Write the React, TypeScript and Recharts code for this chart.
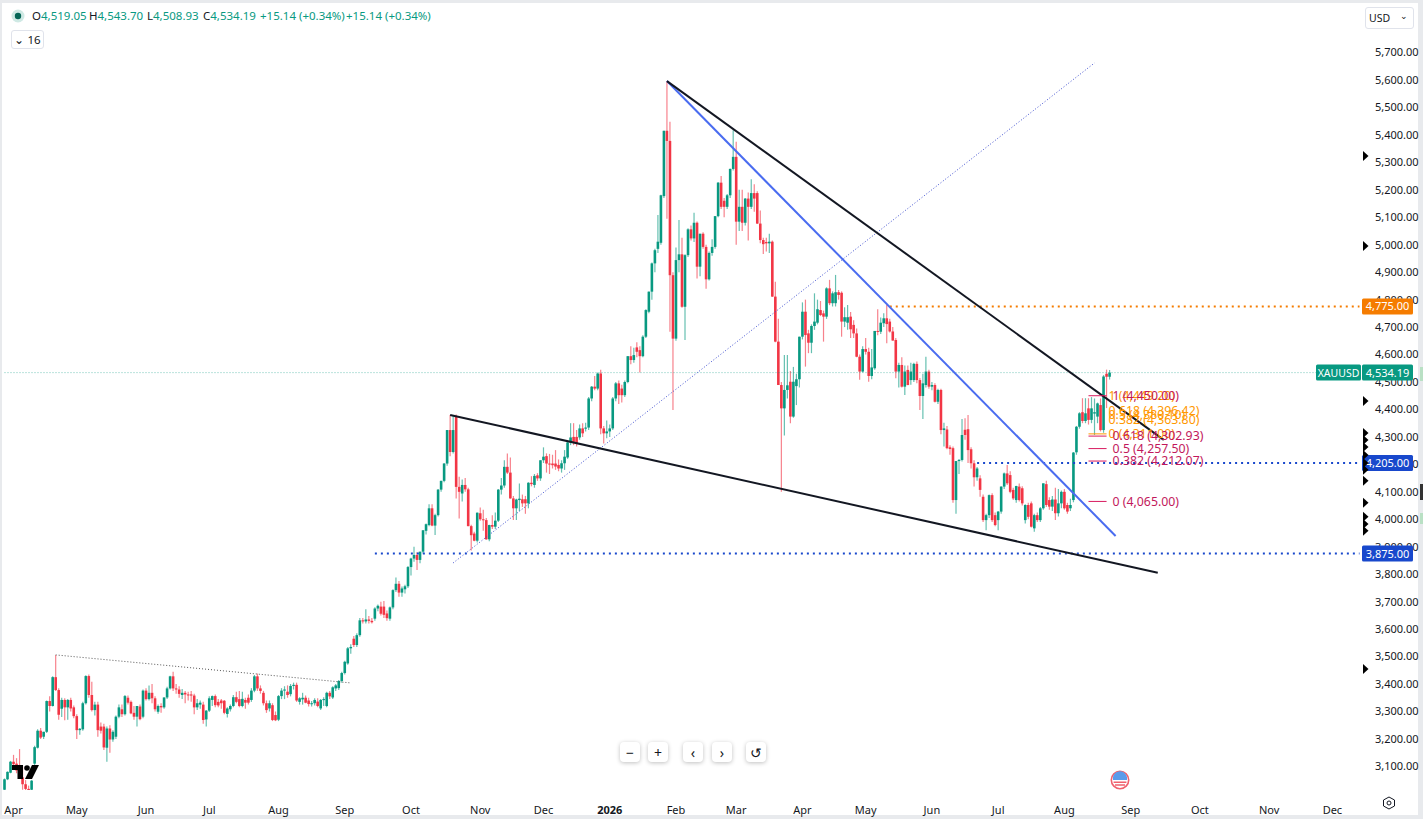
import React from "react";
import { Bar, ComposedChart, ReferenceDot, ReferenceLine, XAxis, YAxis } from "recharts";

type Ohlc = [number, number, number, number];

// open, high, low, close, one list per calendar month
const mar25: Ohlc[] = [[3015,3056,3012,3053],[3053,3082,3050,3080],[3077,3120,3075,3117]];
const apr25: Ohlc[] = [[3117,3142,3105,3108],[3110,3130,3075,3085],[3085,3163,3065,3075],[3060,3100,3015,3035],[3035,3050,3005,3018],[3018,3030,3000,3010],[3015,3050,3005,3048],[3110,3175,3100,3170],[3168,3235,3165,3230],[3230,3240,3200,3205],[3208,3226,3200,3226],[3226,3340,3222,3338],[3338,3355,3300,3320],[3320,3428,3318,3425],[3425,3506,3375,3378],[3378,3385,3270,3288],[3310,3350,3280,3342],[3342,3348,3268,3315],[3315,3345,3270,3342],[3342,3350,3300,3311],[3315,3322,3275,3283]];
const may25: Ohlc[] = [[3283,3290,3200,3232],[3232,3240,3215,3237],[3235,3335,3230,3330],[3330,3432,3325,3429],[3429,3435,3350,3360],[3360,3408,3300,3305],[3305,3335,3285,3325],[3325,3335,3208,3232],[3245,3260,3220,3230],[3245,3255,3160,3169],[3168,3245,3117,3238],[3238,3250,3150,3198],[3198,3232,3190,3226],[3208,3285,3200,3281],[3281,3325,3275,3315],[3308,3325,3280,3290],[3290,3360,3285,3356],[3350,3358,3325,3332],[3335,3340,3290,3293],[3295,3320,3270,3281],[3281,3320,3245,3320],[3318,3325,3268,3272],[3281,3380,3275,3376]];
const jun25: Ohlc[] = [[3376,3385,3340,3345],[3345,3395,3340,3368],[3368,3400,3330,3348],[3348,3355,3300,3308],[3299,3325,3292,3320],[3320,3330,3295,3315],[3315,3352,3310,3351],[3351,3390,3345,3384],[3384,3430,3380,3428],[3428,3445,3375,3384],[3384,3400,3365,3380],[3380,3392,3350,3364],[3360,3382,3345,3368],[3368,3375,3330,3362],[3362,3372,3340,3360],[3362,3375,3335,3358],[3358,3365,3290,3315],[3315,3345,3305,3330],[3325,3340,3310,3332],[3325,3335,3255,3269],[3271,3305,3245,3303]];
const jul25: Ohlc[] = [[3303,3355,3298,3348],[3342,3358,3320,3356],[3356,3362,3315,3323],[3335,3345,3315,3322],[3340,3345,3310,3330],[3339,3342,3290,3295],[3291,3315,3278,3311],[3308,3325,3300,3320],[3320,3360,3315,3352],[3352,3372,3330,3335],[3345,3375,3315,3320],[3320,3372,3315,3346],[3342,3350,3310,3332],[3350,3362,3325,3332],[3342,3385,3335,3376],[3376,3433,3370,3428],[3428,3438,3375,3384],[3384,3395,3365,3375],[3368,3375,3322,3330],[3330,3340,3295,3305],[3311,3340,3300,3330],[3323,3330,3265,3269],[3287,3300,3265,3268]];
const aug25: Ohlc[] = [[3270,3360,3265,3356],[3356,3385,3345,3376],[3376,3392,3345,3380],[3372,3395,3350,3360],[3363,3400,3355,3393],[3393,3405,3380,3397],[3397,3405,3335,3340],[3335,3352,3325,3348],[3344,3368,3325,3350],[3350,3358,3330,3332],[3340,3350,3318,3327],[3327,3338,3318,3330],[3330,3348,3322,3342],[3336,3348,3315,3320],[3311,3345,3305,3342],[3342,3352,3320,3345],[3320,3372,3315,3368],[3368,3375,3345,3355],[3351,3392,3345,3388],[3384,3400,3375,3395],[3385,3415,3378,3411],[3411,3445,3405,3440]];
const sep25: Ohlc[] = [[3440,3485,3435,3481],[3475,3535,3470,3530],[3530,3545,3510,3535],[3565,3575,3535,3542],[3542,3585,3535,3578],[3578,3640,3572,3632],[3632,3640,3620,3628],[3628,3672,3620,3635],[3635,3648,3620,3630],[3630,3640,3620,3625],[3638,3680,3630,3675],[3675,3690,3665,3685],[3682,3700,3650,3656],[3682,3702,3640,3652],[3657,3668,3630,3640],[3638,3682,3630,3679],[3679,3745,3672,3742],[3742,3788,3735,3765],[3765,3775,3718,3733],[3733,3755,3718,3748],[3745,3762,3730,3756],[3756,3830,3750,3826]];
const oct25: Ohlc[] = [[3826,3860,3795,3857],[3857,3900,3845,3870],[3870,3880,3815,3852],[3852,3882,3840,3882],[3882,3960,3875,3960],[3958,3985,3945,3982],[3979,4055,3975,4040],[4040,4055,3975,3977],[3977,4020,3943,4015],[4015,4110,4010,4108],[4108,4140,4100,4140],[4140,4205,4135,4203],[4203,4325,4195,4325],[4325,4380,4230,4245],[4245,4380,4240,4325],[4373,4382,4076,4118],[4118,4155,4003,4100],[4094,4145,4065,4125],[4125,4150,4100,4109],[4109,4115,3975,3975],[3975,3980,3886,3942],[3948,3955,3920,3922],[3922,4025,3915,4024]];
const nov25: Ohlc[] = [[4022,4043,3995,4000],[4000,4035,3958,3998],[3997,4005,3925,3927],[3927,3980,3920,3979],[3979,4015,3965,3973],[3973,4025,3965,3995],[3995,4110,3990,4108],[4108,4150,4090,4123],[4123,4215,4115,4191],[4191,4240,4165,4170],[4170,4225,4075,4076],[4076,4085,3997,4040],[4040,4075,3997,4072],[4070,4130,4030,4075],[4073,4090,4045,4058],[4073,4085,4020,4058],[4058,4135,4040,4133],[4133,4157,4120,4128],[4125,4165,4115,4158],[4160,4168,4140,4149],[4149,4215,4140,4215]];
const dec25: Ohlc[] = [[4215,4262,4205,4228],[4230,4240,4170,4203],[4203,4238,4165,4201],[4203,4235,4185,4197],[4203,4252,4180,4192],[4198,4218,4175,4185],[4185,4215,4170,4204],[4204,4252,4180,4228],[4225,4285,4220,4280],[4280,4350,4270,4298],[4300,4350,4270,4282],[4300,4325,4265,4275],[4298,4345,4290,4331],[4331,4350,4300,4313],[4330,4352,4320,4334],[4334,4445,4325,4440],[4440,4485,4430,4483],[4483,4522,4470,4476],[4476,4535,4470,4531],[4531,4545,4310,4331],[4331,4340,4276,4313],[4313,4360,4295,4320]];
const jan26: Ohlc[] = [[4320,4345,4300,4331],[4331,4445,4325,4440],[4440,4500,4430,4495],[4495,4505,4420,4452],[4476,4490,4425,4452],[4452,4505,4445,4500],[4500,4595,4495,4594],[4594,4630,4565,4580],[4580,4625,4570,4598],[4626,4645,4590,4610],[4616,4630,4535,4594],[4594,4670,4590,4665],[4665,4765,4660,4762],[4756,4830,4750,4829],[4829,4935,4800,4932],[4932,4985,4900,4980],[4985,5108,4970,5011],[5007,5182,5000,5180],[5177,5415,5170,5415],[5415,5596,5095,5378],[5378,5448,4683,4889],[4889,4900,4398,4658]];
const feb26: Ohlc[] = [[4658,4990,4650,4944],[4944,5090,4900,4965],[4965,5025,4770,4774],[4774,4965,4653,4962],[4962,5060,4955,5056],[5056,5070,5015,5023],[5023,5116,5010,5080],[5080,5085,4877,4920],[4920,5040,4885,5040],[5040,5045,4985,4992],[4992,5000,4840,4874],[4874,4975,4870,4970],[4970,5020,4960,4992],[4992,5105,4985,5104],[5104,5228,5100,5226],[5226,5250,5130,5138],[5160,5170,5100,5138],[5138,5185,5130,5180],[5180,5278,5170,5276],[5276,5417,5270,5320]];
const mar26: Ohlc[] = [[5320,5375,5000,5084],[5084,5200,5050,5138],[5138,5200,5050,5080],[5080,5170,5070,5168],[5168,5190,5015,5138],[5138,5238,5130,5188],[5188,5220,5120,5168],[5188,5195,5075,5077],[5077,5125,5005,5017],[5017,5025,4966,5002],[5010,5025,4975,5005],[5005,5040,4970,5011],[5011,5015,4810,4811],[4811,4865,4645,4647],[4647,4730,4490,4489],[4489,4500,4100,4404],[4404,4598,4305,4471],[4471,4598,4440,4488],[4501,4540,4350,4374],[4374,4555,4370,4501],[4485,4530,4416,4510],[4510,4665,4480,4665]];
const apr26: Ohlc[] = [[4665,4790,4655,4756],[4756,4800,4556,4671],[4677,4690,4605,4643],[4643,4710,4605,4704],[4704,4823,4690,4720],[4716,4800,4710,4765],[4762,4795,4740,4744],[4750,4760,4647,4738],[4738,4845,4730,4841],[4841,4872,4780,4787],[4787,4830,4775,4823],[4787,4890,4775,4827],[4827,4835,4800,4817],[4825,4830,4665,4720],[4720,4772,4700,4736],[4716,4780,4690,4736],[4738,4755,4660,4692],[4708,4725,4660,4677],[4677,4695,4590,4592],[4592,4600,4508,4538],[4538,4630,4535,4620]];
const may26: Ohlc[] = [[4620,4660,4600,4610],[4610,4625,4501,4522],[4522,4620,4510,4553],[4550,4686,4545,4686],[4686,4765,4670,4683],[4683,4735,4675,4716],[4714,4750,4700,4732],[4732,4780,4641,4711],[4720,4730,4680,4684],[4684,4700,4650,4651],[4653,4660,4514,4538],[4538,4570,4480,4562],[4562,4590,4480,4483],[4483,4560,4453,4538],[4544,4560,4488,4489],[4507,4570,4490,4538],[4507,4570,4500,4566],[4566,4575,4495,4507],[4507,4515,4398,4449],[4449,4530,4365,4495],[4489,4592,4480,4538],[4538,4545,4475,4483]];
const jun26: Ohlc[] = [[4483,4500,4470,4489],[4489,4495,4425,4428],[4428,4475,4420,4471],[4471,4475,4310,4325],[4325,4352,4265,4331],[4327,4340,4255,4259],[4262,4270,4235,4256],[4259,4265,4060,4070],[4070,4212,4020,4212],[4212,4220,4165,4216],[4216,4365,4210,4307],[4326,4368,4290,4307],[4328,4380,4205,4252],[4255,4262,4185,4204],[4204,4215,4119,4153],[4153,4190,4140,4185],[4149,4160,4082,4107],[4082,4090,3990,3997],[3997,4020,3960,4015],[4015,4090,4005,4088],[4088,4095,3990,3997],[4015,4025,3975,3979]];
const jul26: Ohlc[] = [[3997,4030,3960,4028],[4028,4120,4020,4119],[4119,4170,4110,4167],[4167,4198,4125,4131],[4161,4175,4095,4100],[4107,4115,4070,4076],[4070,4122,4060,4121],[4119,4130,4065,4070],[4113,4120,4050,4058],[3997,4055,3985,4052],[4052,4060,4000,4009],[4058,4065,3970,3973],[3967,4020,3955,4015],[4015,4025,3990,3997],[3997,4045,3990,4040],[4040,4130,4035,4131],[4128,4140,4045,4052],[4070,4080,4035,4046],[4046,4085,4030,4072],[4072,4115,3997,4022],[4022,4110,4010,4058],[4058,4105,4040,4100]];
const aug26: Ohlc[] = [[4100,4110,4035,4040],[4052,4060,4020,4028],[4040,4075,4030,4052],[4070,4245,4062,4243],[4244,4340,4235,4337],[4337,4390,4330,4386],[4390,4441,4350,4358],[4358,4441,4350,4386],[4404,4441,4345,4362],[4362,4445,4350,4404],[4385,4440,4307,4390],[4374,4425,4350,4422],[4416,4440,4320,4325],[4325,4525,4315,4520],[4530,4545,4405,4519],[4519.05,4543.7,4508.93,4534.19]];

const months: [string, Ohlc[]][] = [
    ["", mar25], ["Apr", apr25], ["May", may25], ["Jun", jun25], ["Jul", jul25], ["Aug", aug25], ["Sep", sep25], ["Oct", oct25],
    ["Nov", nov25], ["Dec", dec25], ["2026", jan26], ["Feb", feb26], ["Mar", mar26], ["Apr", apr26], ["May", may26], ["Jun", jun26],
    ["Jul", jul26], ["Aug", aug26],
];
const futureMonthLabels = ["Sep", "Oct", "Nov", "Dec"];
const futureMonthSlots = [374, 397, 420, 441];
const slotCount = 451;

const priceTicks = [3100, 3200, 3300, 3400, 3500, 3600, 3700, 3800, 3900, 4000, 4100, 4200, 4300, 4400, 4500, 4600, 4700, 4800, 4900, 5000, 5100, 5200, 5300, 5400, 5500, 5600, 5700];
const axisMarkers = [5323, 4995, 4431, 4314, 4289, 4263, 4234, 4205, 4180, 4140, 4060, 4009, 3983, 3958, 3455];
const priceDomain = [3014, 5884];

const redFib = [
    { text: "1 (4,450.00)", price: 4450 },
    { text: "0.618 (4,302.93)", price: 4302.93 },
    { text: "0.5 (4,257.50)", price: 4257.5 },
    { text: "0.382 (4,212.07)", price: 4212.07 },
    { text: "0 (4,065.00)", price: 4065 },
];
const orangeFib = [
    { text: "1 (4,449.20)", price: 4449.2 },
    { text: "0.618 (4,396.42)", price: 4396.42 },
    { text: "0.5 (4,380.10)", price: 4380.1 },
    { text: "0.382 (4,363.80)", price: 4363.8 },
    { text: "0 (4,311.00)", price: 4311 },
];

const UP = "#089981";
const DOWN = "#f23645";
const FONT = "'Noto Sans', sans-serif";

const ohlc = months.flatMap(([, rows]) => rows);
const rows = Array.from({ length: slotCount }, (_, idx) => {
    const c = ohlc[idx];
    return c ? { idx, open: c[0], high: c[1], low: c[2], close: c[3] } : { idx };
});

const tickLabels: Record<number, string> = {};
let cursor = 0;
months.forEach(([label, list]) => {
    if (label) tickLabels[cursor] = label;
    cursor += list.length;
});
futureMonthSlots.forEach((slot, i) => {
    tickLabels[slot] = futureMonthLabels[i];
});
const tickSlots = Object.keys(tickLabels).map(Number);

function Candle(props: any) {
    const { x, y, width, height, payload } = props;
    if (payload.high === undefined || !Number.isFinite(y)) return null;
    const top = Math.min(y, y + height);
    const h = Math.abs(height);
    const range = payload.high - payload.low || 1;
    const at = (price: number) => top + ((payload.high - price) / range) * h;
    const color = payload.close >= payload.open ? UP : DOWN;
    const cx = x + width / 2;
    const bodyTop = at(Math.max(payload.open, payload.close));
    const bodyBottom = at(Math.min(payload.open, payload.close));
    return (
        <g>
            <line x1={cx} x2={cx} y1={top} y2={top + h} stroke={color} strokeWidth={1.2} strokeOpacity={0.62} />
            <rect x={cx - 1.3} y={bodyTop} width={2.6} height={Math.max(bodyBottom - bodyTop, 1)} fill={color} />
        </g>
    );
}

function MonthTick({ x, y, payload }: any) {
    const label = tickLabels[payload.value];
    return (
        <text x={x} y={y + 16} textAnchor="middle" fontFamily={FONT} fontSize={11} fontWeight={label === "2026" ? 700 : 400} fill="#131722">
            {label}
        </text>
    );
}

function PriceTag({ viewBox, text, color }: any) {
    const y = viewBox.y;
    return (
        <g>
            <rect x={1362} y={y - 8} width={51} height={16} rx={1.5} fill={color} />
            <text x={1387.5} y={y + 4} textAnchor="middle" fontFamily={FONT} fontSize={11} fill="#fff">{text}</text>
        </g>
    );
}

function LastPriceTag({ viewBox }: any) {
    const y = viewBox.y;
    return (
        <g>
            <rect x={1316} y={y - 8} width={45} height={16} rx={1.5} fill={UP} />
            <text x={1338.5} y={y + 4} textAnchor="middle" fontFamily={FONT} fontSize={10.5} fill="#fff">XAUUSD</text>
            <rect x={1362} y={y - 8} width={51} height={16} rx={1.5} fill={UP} />
            <text x={1387.5} y={y + 4} textAnchor="middle" fontFamily={FONT} fontSize={11} fill="#fff">4,534.19</text>
        </g>
    );
}

function MarkerTriangle({ cx, cy }: any) {
    return <path d={`M${cx + 2} ${cy - 5}L${cx + 7.5} ${cy}L${cx + 2} ${cy + 5}Z`} fill="#000" />;
}

const button: React.CSSProperties = {
    position: "absolute",
    top: 742,
    width: 20,
    height: 20,
    background: "#fff",
    borderRadius: 4,
    boxShadow: "0 1px 4px rgba(0,0,0,0.25)",
    display: "flex",
    alignItems: "center",
    justifyContent: "center",
    fontFamily: FONT,
    fontSize: 14,
    color: "#131722",
};

const legendItem: React.CSSProperties = {
    position: "absolute",
    top: 8,
    fontSize: 11.5,
    lineHeight: "16px",
    color: UP,
    whiteSpace: "nowrap",
};
const legendLetter: React.CSSProperties = { color: "#131722" };

export default function App() {
    return (
        <div style={{ position: "absolute", left: 0, top: 0, width: 1423, height: 819, background: "#e8eaed", overflow: "hidden", fontFamily: FONT }}>
            <div style={{ position: "absolute", left: 2, top: 3, width: 1416, height: 812, background: "#fff" }} />
            <div style={{ position: "absolute", left: 0, top: 0 }}>
                <ComposedChart width={1423} height={819} data={rows} margin={{ top: 2, right: 0, bottom: 0, left: 3 }}>
                    <XAxis dataKey="idx" type="category" ticks={tickSlots} interval={0} height={29} axisLine={false} tickLine={false} tick={<MonthTick />} />
                    <YAxis
                        orientation="right"
                        width={62}
                        domain={priceDomain}
                        allowDataOverflow
                        ticks={priceTicks}
                        interval={0}
                        axisLine={false}
                        tickLine={false}
                        tickMargin={8}
                        tick={{ fontSize: 11, fill: "#131722", fontFamily: FONT }}
                        tickFormatter={(v: number) => v.toLocaleString("en-US", { minimumFractionDigits: 2 })}
                    />
                    <Bar dataKey={(d: any) => (d.high === undefined ? undefined : [d.low, d.high])} barSize={3} shape={<Candle />} isAnimationActive={false} />

                    <ReferenceLine segment={[{ x: 0, y: 4534.19 }, { x: 436, y: 4534.19 }]} stroke={UP} strokeOpacity={0.55} strokeDasharray="1 2" />
                    <ReferenceLine segment={[{ x: 17, y: 3506 }, { x: 115, y: 3404 }]} stroke="#555" strokeDasharray="1 2" />
                    <ReferenceLine segment={[{ x: 149, y: 3841 }, { x: 362, y: 5662 }]} stroke="#3f4fd0" strokeDasharray="1 2" />
                    <ReferenceLine segment={[{ x: 123, y: 3875 }, { x: 450, y: 3875 }]} stroke="#1848cc" strokeWidth={2} strokeDasharray="2 4" />
                    <ReferenceLine segment={[{ x: 323, y: 4205 }, { x: 450, y: 4205 }]} stroke="#1848cc" strokeWidth={2} strokeDasharray="2 4" />
                    <ReferenceLine segment={[{ x: 294, y: 4775 }, { x: 450, y: 4775 }]} stroke="#f57c00" strokeWidth={2} strokeDasharray="2 4" />
                    <ReferenceLine segment={[{ x: 220, y: 5596 }, { x: 369, y: 3939 }]} stroke="#4a6cf0" strokeWidth={2} />
                    <ReferenceLine segment={[{ x: 220, y: 5596 }, { x: 385, y: 4289 }]} stroke="#131722" strokeWidth={2} />
                    <ReferenceLine segment={[{ x: 148, y: 4380 }, { x: 383, y: 3805 }]} stroke="#131722" strokeWidth={2} />

                    {orangeFib.map((f) => (
                        <ReferenceLine
                            key={f.text}
                            segment={[{ x: 360, y: f.price }, { x: 366, y: f.price }]}
                            stroke={f.price === 4311 ? "#ff9800" : "none"}
                            label={{ value: f.text, position: "right", offset: 2, fontSize: 12.3, fill: "#ff9800", fontFamily: FONT }}
                        />
                    ))}
                    {redFib.map((f) => (
                        <ReferenceLine
                            key={f.text}
                            segment={[{ x: 360, y: f.price }, { x: 366, y: f.price }]}
                            stroke="#d81b60"
                            label={{ value: f.text, position: "right", offset: 6, fontSize: 12.3, fill: "#c2185b", fontFamily: FONT }}
                        />
                    ))}
                </ComposedChart>
            </div>

            {/* Price tags and axis markers sit above the tick labels, so they get their own layer */}
            <div style={{ position: "absolute", left: 0, top: 0 }}>
                <ComposedChart width={1423} height={819} data={rows} margin={{ top: 2, right: 62, bottom: 29, left: 3 }}>
                    <XAxis dataKey="idx" type="category" hide />
                    <YAxis domain={priceDomain} allowDataOverflow hide />
                    <ReferenceLine y={4775} stroke="none" label={<PriceTag text="4,775.00" color="#f57c00" />} />
                    <ReferenceLine y={4205} stroke="none" label={<PriceTag text="4,205.00" color="#1848cc" />} />
                    <ReferenceLine y={3875} stroke="none" label={<PriceTag text="3,875.00" color="#1848cc" />} />
                    <ReferenceLine y={4534.19} stroke="none" label={<LastPriceTag />} />
                    {axisMarkers.map((price) => (
                        <ReferenceDot key={price} x={450} y={price} r={0} shape={<MarkerTriangle />} ifOverflow="visible" />
                    ))}
                </ComposedChart>
            </div>

            {/* Legend row */}
            <svg width={16} height={16} style={{ position: "absolute", left: 10, top: 8 }}>
                <circle cx={8} cy={8} r={6.5} fill="#cfe9e4" />
                <circle cx={8} cy={8} r={3.2} fill="#056656" />
            </svg>
            <div style={{ ...legendItem, left: 32 }}><span style={legendLetter}>O</span>4,519.05</div>
            <div style={{ ...legendItem, left: 89 }}><span style={legendLetter}>H</span>4,543.70</div>
            <div style={{ ...legendItem, left: 147 }}><span style={legendLetter}>L</span>4,508.93</div>
            <div style={{ ...legendItem, left: 203 }}><span style={legendLetter}>C</span>4,534.19</div>
            <div style={{ ...legendItem, left: 260 }}>+15.14 (+0.34%)</div>
            <div style={{ ...legendItem, left: 346 }}>+15.14 (+0.34%)</div>
            <div style={{ position: "absolute", left: 11, top: 30, width: 31, height: 17, border: "1px solid #e0e3eb", borderRadius: 3, fontSize: 11.5, lineHeight: "17px", color: "#131722", textAlign: "center" }}>
                ⌄ 16
            </div>
            <div style={{ position: "absolute", left: 1365, top: 7, width: 47, height: 20, border: "1px solid #e0e3eb", borderRadius: 3, fontSize: 10.5, lineHeight: "20px", color: "#131722", background: "#fff", boxSizing: "content-box" }}>
                <span style={{ marginLeft: 3 }}>USD</span>
                <span style={{ position: "absolute", right: 5, top: -2, fontSize: 9 }}>⌄</span>
            </div>

            {/* Watermark */}
            <svg width={28} height={15} viewBox="0 0 28 15" style={{ position: "absolute", left: 12, top: 765 }}>
                <path d="M0 0H11V14H5.5V5H0Z" fill="#000" />
                <circle cx={15} cy={3} r={2.8} fill="#000" />
                <path d="M20 0H27L20 14H13Z" fill="#000" />
            </svg>

            {/* Navigation buttons */}
            <div style={{ ...button, left: 620 }}>−</div>
            <div style={{ ...button, left: 648 }}>+</div>
            <div style={{ ...button, left: 683 }}>‹</div>
            <div style={{ ...button, left: 712 }}>›</div>
            <div style={{ ...button, left: 746 }}>↺</div>

            {/* Event flag */}
            <svg width={22} height={22} viewBox="0 0 22 22" style={{ position: "absolute", left: 1109, top: 769 }}>
                <circle cx={11} cy={11} r={8.7} fill="#fff" stroke="#f0616d" strokeWidth={1.6} />
                <path d="M4 11A7 7 0 0 1 18 8V11Z" fill="#5b9bea" />
                <path d="M4.6 13.2H17.4M6 16H16" stroke="#f0616d" strokeWidth={1.4} />
            </svg>

            {/* Settings */}
            <svg width={14} height={14} viewBox="0 0 14 14" style={{ position: "absolute", left: 1382, top: 796 }}>
                <path d="M7 1L12.5 4V10L7 13L1.5 10V4Z" fill="none" stroke="#131722" />
                <circle cx={7} cy={7} r={2} fill="none" stroke="#131722" />
            </svg>

            {/* Window edge marks */}
            <div style={{ position: "absolute", left: 1420, top: 367, width: 3, height: 14, background: "#b9e0c4" }} />
            <div style={{ position: "absolute", left: 1420, top: 484, width: 3, height: 16, background: "#333" }} />
            <div style={{ position: "absolute", left: 1420, top: 513, width: 3, height: 11, background: "#b9e0c4" }} />
        </div>
    );
}
